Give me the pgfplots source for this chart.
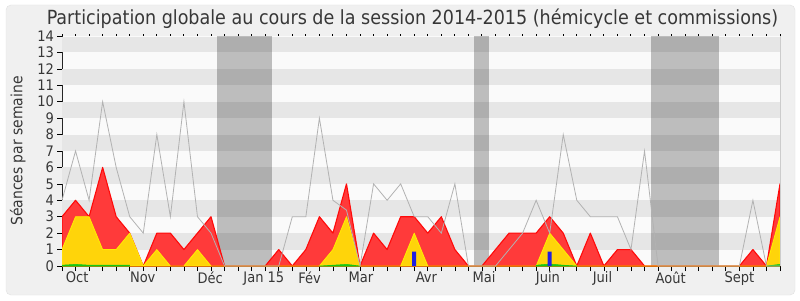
\documentclass[border=0pt]{standalone}
\usepackage{fontspec}
\setmainfont{DejaVu Sans Condensed}
\usepackage{pgfplots}
\usepackage{pgfplotstable}
\pgfplotsset{compat=1.18}

\definecolor{bgc}{RGB}{240,240,240}
\definecolor{framec}{RGB}{225,225,225}
\definecolor{stripe}{RGB}{230,230,230}
\definecolor{plotbg}{RGB}{250,250,250}
\definecolor{redfill}{RGB}{255,58,58}
\definecolor{redline}{RGB}{255,10,10}
\definecolor{yelfill}{RGB}{255,212,10}
\definecolor{yelline}{RGB}{255,238,0}
\definecolor{blu}{RGB}{32,32,224}
\definecolor{grayline}{RGB}{178,178,178}
\definecolor{grn}{RGB}{20,200,20}
\definecolor{textc}{RGB}{55,55,55}

\pgfplotstableread{
w g r y
0 4 3 1
1 7 4 3
2 4 3 3
3 10 6 1
4 6 3 1
5 3 2 2
6 2 0 0
7 8 2 1
8 3 2 0
9 10 1 0
10 3 2 1
11 2 3 0
12 0 0 0
13 0 0 0
14 0 0 0
15 0 0 0
16 0 1 0
17 3 0 0
18 3 1 0
19 9 3 0
20 4 2 1
21 3.4 5 3
22 0 0 0
23 5 2 0
24 4 1 0
25 5 3 0
26 3 3 2
27 3 2 0
28 2 3 0
29 5 1 0
30 0 0 0
31 0 0 0
32 0 1 0
33 1 2 0
34 2 2 0
35 4 2 0
36 2 3 2
37 8 2 1
38 4 0 0
39 3 2 0
40 3 0 0
41 3 1 0
42 1 1 0
43 7 0 0
44 0 0 0
45 0 0 0
46 0 0 0
47 0 0 0
48 0 0 0
49 0 0 0
50 0 0 0
51 4 1 0
52 0 0 0
53 0 5 3
}\data

\begin{document}
\begin{tikzpicture}[x=1pt,y=1pt]
\path[use as bounding box] (0,0) rectangle (800,300);
\fill[white] (0,0) rectangle (800,300);
\draw[framec, fill=bgc, rounded corners=5pt] (6,5) rectangle (795,295);
\node[font=\fontsize{19.5}{22}\selectfont, text=textc] at (412.5,281.5) {Participation globale au cours de la session 2014-2015 (hémicycle et commissions)};

\begin{axis}[
  at={(62pt,34pt)}, anchor=south west,
  scale only axis, width=718pt, height=230pt,
  xmin=0, xmax=53, ymin=0, ymax=14,
  axis x line*=bottom, axis y line*=left,
  axis line style={-, black!85, line width=0.8pt},
  axis background/.style={fill=plotbg},
  xtick={0,...,53}, xticklabels={},
  ytick={0,...,14},
  tick align=outside,
  major tick length=5pt,
  tick style={black, line width=0.7pt},
  every tick label/.style={font=\fontsize{14.5}{16}\selectfont, text=textc},
  yticklabel style={xshift=0.5pt},
  /pgf/number format/assume math mode=true,
  extra x ticks={1.12,5.96,10.94,14.9,18.28,22.07,26.9,31.15,35.87,39.9,44.93,50.0},
  extra x tick labels={Oct,Nov,Déc,Jan 15,Fév,Mar,Avr,Mai,Juin,Juil,Août,Sept},
  extra x tick style={major tick length=0pt, tick label style={yshift=-2pt}},
  ylabel={Séances par semaine},
  ylabel style={at={(axis description cs:-0.0616,0.5)}, anchor=center, font=\fontsize{15.5}{17}\selectfont, text=textc},
  clip=true,
]
% stripes
\fill[stripe] (axis cs:0,1) rectangle (axis cs:53,2);
\fill[stripe] (axis cs:0,3) rectangle (axis cs:53,4);
\fill[stripe] (axis cs:0,5) rectangle (axis cs:53,6);
\fill[stripe] (axis cs:0,7) rectangle (axis cs:53,8);
\fill[stripe] (axis cs:0,9) rectangle (axis cs:53,10);
\fill[stripe] (axis cs:0,11) rectangle (axis cs:53,12);
\fill[stripe] (axis cs:0,13) rectangle (axis cs:53,13.92);
% vacation bands
\fill[black, opacity=0.245] (axis cs:11.43,0) rectangle (axis cs:15.48,14);
\fill[black, opacity=0.245] (axis cs:30.42,0) rectangle (axis cs:31.5,14);
\fill[black, opacity=0.245] (axis cs:43.47,0) rectangle (axis cs:48.47,14);
% areas
\addplot[fill=redfill, draw=redline, line width=1.1pt, line join=round] table[x=w,y=r]{\data} \closedcycle;
\addplot[fill=yelfill, draw=yelline, line width=0.8pt, line join=round] table[x=w,y=y]{\data} \closedcycle;
\addplot[fill=grn, draw=grn, line width=0.5pt] coordinates {(0,0.05) (1,0.1) (2,0.05) (3,0.05) (4,0.05) (5,0.05)} \closedcycle;
\addplot[fill=grn, draw=grn, line width=0.5pt] coordinates {(19,0) (20,0.05) (21,0.1) (22,0)} \closedcycle;
\addplot[fill=grn, draw=grn, line width=0.5pt] coordinates {(35,0.05) (36,0.12) (37,0.05) (38,0)} \closedcycle;
\addplot[fill=grn, draw=grn, line width=0.5pt] coordinates {(52,0) (53,0.1)} \closedcycle;
\addplot[ybar, bar width=4pt, fill=blu, draw=none] coordinates {(26,0.87) (36,0.87)};
\addplot[grayline, line width=0.8pt] table[x=w,y=g]{\data};
\end{axis}

\begin{axis}[
  at={(62pt,34pt)}, anchor=south west,
  scale only axis, width=718pt, height=230pt,
  xmin=0, xmax=53, ymin=0, ymax=14,
  axis x line*=top, axis y line*=right,
  x axis line style={draw=none},
  y axis line style={-, draw=black!20, line width=0.6pt},
  xtick={0,...,53}, xticklabels={},
  ytick=\empty,
  tick align=outside,
  major tick length=1.5pt,
  tick style={black, line width=1pt},
]
\end{axis}
\end{tikzpicture}
\end{document}
